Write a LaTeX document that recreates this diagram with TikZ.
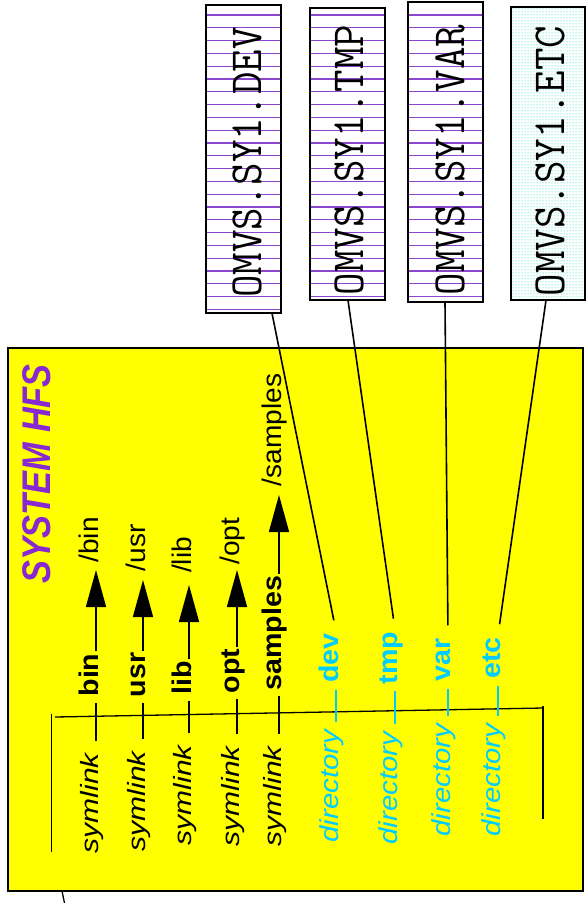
\documentclass[tikz,border=0pt]{standalone}
\usepackage{fontspec}
\setmainfont{Liberation Sans}
\usetikzlibrary{arrows.meta,patterns,calc}
\definecolor{hfsyellow}{RGB}{255,255,0}
\definecolor{titlepurple}{RGB}{135,40,210}
\definecolor{dircyan}{RGB}{0,204,255}
\definecolor{stripecol}{RGB}{140,70,205}
\definecolor{dotcol}{RGB}{0,215,170}
\newcommand{\linkword}{\scalebox{1.2}[1]{symlink}}
\newcommand{\nmw}[1]{\scalebox{1.06}[1]{#1}}
\newcommand{\pthw}[1]{\scalebox{1.04}[1]{#1}}
\newcommand{\dirword}{\scalebox{1.13}[1]{directory}}
\newcommand{\boxw}[1]{\scalebox{0.95}[1]{#1}}
\tikzset{
  rtext/.style={rotate=90, anchor=mid, inner sep=2pt},
  linktext/.style={rtext, font=\fontsize{25}{28}\selectfont\itshape},
  nametext/.style={rtext, font=\fontsize{27}{30}\selectfont\bfseries},
  pathtext/.style={rtext, font=\fontsize{27}{30}\selectfont},
  dirtext/.style={rtext, font=\fontsize{26}{29}\selectfont\itshape, text=dircyan},
  dirname/.style={rtext, font=\fontsize{27}{30}\selectfont\bfseries, text=dircyan},
  titletext/.style={rotate=90, anchor=center, inner sep=0pt, font=\fontsize{40}{44}\selectfont\bfseries\itshape, text=titlepurple},
  boxtext/.style={rotate=90, anchor=center, inner sep=0pt, font=\fontsize{46}{50}\selectfont\ttfamily},
  boxbg/.style={fill=white, draw=none, inner sep=0pt},
  boxline/.style={draw=black, line width=1.5pt},
  stripe/.style={draw=stripecol, line width=1.2pt},
  hfsbox/.style={draw=black, line width=1.2pt, fill=hfsyellow, inner sep=0pt},
  segthick/.style={line width=2.6pt, shorten <=10pt, shorten >=4pt},
  segthin/.style={line width=1.5pt, shorten <=10pt, shorten >=4pt},
  arrowline/.style={line width=1.5pt, -{Triangle[length=37pt,width=20pt]}},
  cyanseg/.style={draw=dircyan, line width=2pt, shorten <=5pt, shorten >=5pt},
  conn/.style={line width=1.6pt, shorten <=11pt},
  treeline/.style={line width=1.3pt}
}
\begin{document}
\begin{tikzpicture}[x=1pt,y=-1pt]
\useasboundingbox (0,0) rectangle (586,903);
% yellow system box
\node[hfsbox, minimum width=575pt, minimum height=543pt] (hfs) at (295.5,619.5) {};
\node[titletext] (title) at (37,474) {\scalebox{0.86}[1]{SYSTEM HFS}};
% striped boxes
\node[boxbg, minimum width=75pt, minimum height=308pt] (devbox) at (243.5,159) {};
\node[boxbg, minimum width=75pt, minimum height=292pt] (tmpbox) at (347.5,154) {};
\node[boxbg, minimum width=75pt, minimum height=300pt] (varbox) at (445.5,152) {};
\foreach \b in {devbox,tmpbox,varbox}{
  \begin{scope}
    \clip (\b.south west) rectangle (\b.north east);
    \foreach \k in {-1,...,24}{
      \draw[stripe] (190,{15+12.8*\k}) -- (500,{15+12.8*\k});
    }
  \end{scope}
  \draw[boxline] (\b.south west) rectangle (\b.north east);
}
\node[boxbg, minimum width=74pt, minimum height=293pt, preaction={fill=white}, pattern=dots, pattern color=dotcol] (etcbox) at (548,153.5) {};
\draw[boxline] (etcbox.south west) rectangle (etcbox.north east);
\node[boxtext] (devlabel) at (247.5,162.5) {\boxw{OMVS.SY1.DEV}};
\node[boxtext] (tmplabel) at (349.5,160) {\boxw{OMVS.SY1.TMP}};
\node[boxtext] (varlabel) at (450,160) {\boxw{OMVS.SY1.VAR}};
\node[boxtext] (etclabel) at (550,161) {\boxw{OMVS.SY1.ETC}};
\coordinate (devend) at ([xshift=28.5pt]devbox.south);
\coordinate (tmpend) at ([xshift=0.5pt]tmpbox.south);
\coordinate (varend) at ([xshift=-0.5pt]varbox.south);
\coordinate (etcend) at ([xshift=-2pt]etcbox.south);
% tree bracket
\coordinate (tl) at (55,717);
\coordinate (tr) at (543,708);
\coordinate (trt) at (543,706);
\coordinate (trb) at (543,819);
\coordinate (blt) at (51.7,714);
\coordinate (blb) at (51.7,852);
\draw[treeline] (tl) -- (tr);
\draw[treeline] (trt) -- (trb);
\draw[treeline] (blt) -- (blb);
% bottom connector leaving the box
\coordinate (bt) at (62,891);
\coordinate (bb) at (64.5,903);
\draw[treeline] (bt) -- (bb);
% symlink rows
\foreach \n/\x/\ly/\ny/\ty/\tp/\w in {bin/96/803/675/540/570/thick, usr/143/801/675/548/580/thick, lib/189/795/678/555/585/thick, opt/237/796/671/541/570/thin, samples/279/796/633/430/495/thin}{
  \node[linktext] (\n link) at (\x,\ly) {\linkword};
  \node[nametext] (\n name) at (\x,\ny) {\nmw{\n}};
  \coordinate (\n tip) at (\x,\tp);
  \node[pathtext] (\n path) at (\x,\ty) {\pthw{/\n}};
  \draw[seg\w] (\n link.mid east) -- (\n name.mid west);
  \draw[arrowline] (\n name.mid east) -- (\n tip);
}
% directory rows
\foreach \n/\x/\ly/\ny in {dev/336/786/658, tmp/395/788/658, var/448/780/660, etc/498/780/658}{
  \node[dirtext] (\n link) at (\x,\ly) {\dirword};
  \node[dirname] (\n name) at (\x,\ny) {\nmw{\n}};
  \draw[cyanseg] (\n link.mid east) -- (\n name.mid west);
  \draw[conn] (\n name.mid east) -- (\n end);
}
\end{tikzpicture}
\end{document}
